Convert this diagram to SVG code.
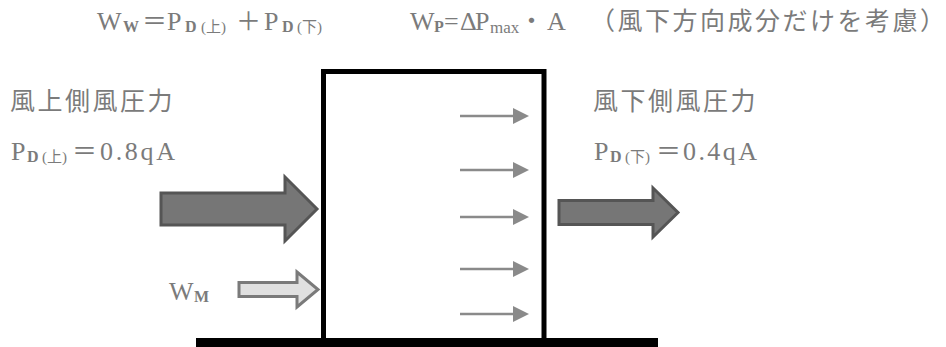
<svg xmlns="http://www.w3.org/2000/svg" width="946" height="347" viewBox="0 0 946 347">
<style>
.t{font-family:"Liberation Serif","Noto Sans CJK JP",serif;font-size:26px;fill:#7b7b7b}
.s{font-family:"Liberation Serif","Noto Sans CJK JP",serif;font-size:16px;font-weight:bold;fill:#7b7b7b}
.p{font-family:"Liberation Serif","Noto Sans CJK JP",serif;font-size:15px;fill:#7b7b7b}
.m{font-family:"Liberation Serif",serif;font-size:17px;fill:#7b7b7b}
.j{font-family:"Noto Sans CJK JP",sans-serif;font-size:25px;fill:#7b7b7b}
.jt{font-family:"Noto Sans CJK JP",sans-serif;font-size:25px;letter-spacing:2.5px;fill:#7b7b7b}
.big{fill:#767676;stroke:#555;stroke-width:3;stroke-linejoin:miter}
.wm{fill:#e0e0e0;stroke:#7a7a7a;stroke-width:3}
.sm{stroke:#8a8a8a;stroke-width:2.5;fill:none}
.hd{fill:#8a8a8a}
</style>
<rect width="946" height="347" fill="#fff"/>
<g id="building">
<rect x="323.5" y="71.5" width="220.5" height="272" fill="#fff" stroke="#000" stroke-width="5"/>
<rect x="196" y="338" width="462" height="9" fill="#000"/>
</g>
<g id="formula-ww">
<text class="t" x="97" y="30">W</text>
<text class="s" x="123" y="32">W</text>
<text class="j" x="142" y="30">＝</text>
<text class="t" x="167" y="30">P</text>
<text class="s" x="185" y="32">D</text>
<text class="p" x="201" y="32">(上)</text>
<text class="j" x="236" y="30">＋</text>
<text class="t" x="264" y="30">P</text>
<text class="s" x="282" y="32">D</text>
<text class="p" x="297" y="32">(下)</text>
</g>
<g id="formula-wp">
<text class="t" x="410" y="30">W</text>
<text class="s" x="434" y="32">P</text>
<text class="t" x="444" y="30">=</text>
<text class="t" x="460" y="30">Δ</text>
<text class="t" x="475" y="30">P</text>
<text class="m" x="490" y="33">max</text>
<text class="j" x="519" y="30">・</text>
<text class="t" x="547" y="30">A</text>
<text class="jt" x="590" y="30">（風下方向成分だけを考慮）</text>
</g>
<g id="windward">
<text class="jt" x="10" y="110">風上側風圧力</text>
<text class="t" x="11" y="160">P</text>
<text class="s" x="27" y="162">D</text>
<text class="p" x="42" y="162">(上)</text>
<text class="j" x="72" y="160">＝</text>
<text class="t" x="100" y="160" textLength="75" lengthAdjust="spacing">0.8qA</text>
</g>
<g id="leeward">
<text class="jt" x="593" y="110">風下側風圧力</text>
<text class="t" x="594" y="160">P</text>
<text class="s" x="610" y="162">D</text>
<text class="p" x="625" y="162">(下)</text>
<text class="j" x="656" y="160">＝</text>
<text class="t" x="683" y="160" textLength="74" lengthAdjust="spacing">0.4qA</text>
</g>
<g id="wm-label">
<text class="t" x="169" y="300">W</text>
<text class="s" x="194" y="302">M</text>
</g>
<g id="connectors">
<polygon class="big" points="161,193 285,193 285,177 317,209 285,241 285,225 161,225"/>
<polygon class="big" points="559,200.5 653,200.5 653,188 678,212.5 653,237 653,224.5 559,224.5"/>
<polygon class="wm" points="239,282.5 297,282.5 297,272 318,289.5 297,307 297,296.5 239,296.5"/>
<g id="pressure-arrows">
<line class="sm" x1="460" y1="116" x2="515" y2="116"/><polygon class="hd" points="513,108 529,116 513,124"/>
<line class="sm" x1="460" y1="170" x2="515" y2="170"/><polygon class="hd" points="513,162 529,170 513,178"/>
<line class="sm" x1="460" y1="217" x2="515" y2="217"/><polygon class="hd" points="513,209 529,217 513,225"/>
<line class="sm" x1="460" y1="269" x2="515" y2="269"/><polygon class="hd" points="513,261 529,269 513,277"/>
<line class="sm" x1="460" y1="314" x2="515" y2="314"/><polygon class="hd" points="513,306 529,314 513,322"/>
</g>
</g>
</svg>
